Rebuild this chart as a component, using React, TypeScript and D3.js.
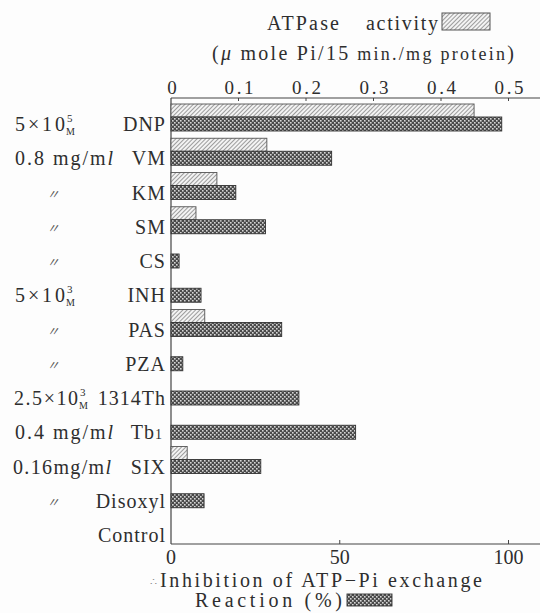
import React from "react";
import * as d3 from "d3";

// ---- data ----
const drugs = ["DNP", "VM", "KM", "SM", "CS", "INH", "PAS", "PZA", "1314Th", "Tb1", "SIX", "Disoxyl", "Control"];
const concLabels = ["5×10|M|5", "0.8 mg/ml", "〃", "〃", "〃", "5×10|M|3", "〃", "〃", "2.5×10|M|3", "0.4 mg/ml", "0.16mg/ml", "〃", ""];
const atpaseActivity: (number | null)[] = [0.449, 0.142, 0.068, 0.037, null, null, 0.05, null, null, null, 0.024, null, null];
const inhibitionPct: (number | null)[] = [98, 47.6, 19.2, 28, 2.4, 8.9, 32.8, 3.5, 37.9, 54.7, 26.6, 9.8, null];
const topTicks = [0, 0.1, 0.2, 0.3, 0.4, 0.5];
const bottomTicks = [0, 50, 100];

const SERIF = "Liberation Serif, Times New Roman, DejaVu Serif, serif";
const INK = "#2e2e2e";
const serif = { fontFamily: SERIF };

const X0 = 171;
const X1 = 508.5;
const TOP_Y = 98;
const BOT_Y = 544;
const RIGHT = 540;

const xAct = d3.scaleLinear().domain([0, 0.5]).range([X0, X1]);
const xPct = d3.scaleLinear().domain([0, 100]).range([X0, X1]);
const y = d3.scalePoint<string>().domain(drugs).range([124, 535]);

function fmtTop(v: number) {
  return v === 0 ? "0" : d3.format(".1f")(v);
}

function ConcLabel({ label, cy }: { label: string; cy: number }) {
  const base = cy + 7;
  if (!label) return null;
  if (label === "〃") {
    return (
      <text x={53} y={base - 1} textAnchor="middle" fontSize={13} fill="#555" fontStyle="italic"
        style={{ fontFamily: "Noto Sans CJK JP, sans-serif" }}>〃</text>
    );
  }
  if (label.includes("|")) {
    const [b, sub, sup] = label.split("|");
    const w = b.length === 4 ? 50 : 64;
    const x = b.length === 4 ? 15 : 14;
    return (
      <g style={serif} fill={INK}>
        <text x={x} y={base} fontSize={20} textLength={w} lengthAdjust="spacing">{b}</text>
        <text x={x + w + 1} y={base + 4} fontSize={10}>{sub}</text>
        <text x={x + w + 2} y={base - 9} fontSize={11}>{sup}</text>
      </g>
    );
  }
  const body = label.slice(0, -1);
  return (
    <text x={label.startsWith("0.16") ? 13 : 15} y={base} fontSize={20} style={serif} fill={INK}
      textLength={98} lengthAdjust="spacing">
      {body}
      <tspan fontStyle="italic">l</tspan>
    </text>
  );
}

function DrugLabel({ name, cy }: { name: string; cy: number }) {
  const base = cy + 7;
  if (name === "Tb1") {
    return (
      <text x={163} y={base} textAnchor="end" fontSize={20} style={serif} fill={INK} letterSpacing={1}>
        Tb<tspan fontSize={14}>1</tspan>
      </text>
    );
  }
  return (
    <text x={166} y={base} textAnchor="end" fontSize={20} style={serif} fill={INK} letterSpacing={1}>
      {name}
    </text>
  );
}

export default function App() {
  return (
    <svg width={540} height={613} viewBox="0 0 540 613"
      style={{ position: "absolute", left: 0, top: 0, background: "#fdfdfd" }}>
      <defs>
        <pattern id="hatch" width={3} height={3} patternUnits="userSpaceOnUse" patternTransform="rotate(45)">
          <rect width={3} height={3} fill="#f3f3f3" />
          <line x1={0.5} y1={0} x2={0.5} y2={3} stroke="#9c9c9c" strokeWidth={1} />
        </pattern>
        <pattern id="cross" width={4} height={4} patternUnits="userSpaceOnUse">
          <rect width={4} height={4} fill="#4a4a4a" />
          <rect x={0} y={0} width={1.6} height={1.6} fill="#d6d6d6" />
          <rect x={2} y={2} width={1.6} height={1.6} fill="#d6d6d6" />
        </pattern>
      </defs>

      {/* top title */}
      <g style={serif} fill={INK} fontSize={20}>
        <text x={267} y={30} textLength={72} lengthAdjust="spacing">ATPase</text>
        <text x={366} y={30} textLength={72} lengthAdjust="spacing">activity</text>
        <text x={212} y={60} textLength={302} lengthAdjust="spacing">
          (<tspan fontStyle="italic">μ</tspan> mole Pi/15<tspan fontSize={18}> min./mg protein</tspan>)
        </text>
      </g>
      <rect x={442} y={13} width={48} height={17} fill="url(#hatch)" stroke="#555" strokeWidth={1} />

      {/* top axis */}
      <line x1={X0} x2={RIGHT} y1={TOP_Y} y2={TOP_Y} stroke="#444" strokeWidth={1.2} />
      {topTicks.map((t) => (
        <g key={"tt" + t}>
          {t > 0 && <line x1={xAct(t)} x2={xAct(t)} y1={TOP_Y} y2={TOP_Y + 3} stroke="#444" />}
          {t === 0 ? (
            <text x={xAct(t) + 1} y={94} textAnchor="middle" fontSize={19} style={serif} fill={INK}>0</text>
          ) : (
            <text x={xAct(t) - 14} y={94} fontSize={19} style={serif} fill={INK}
              textLength={29} lengthAdjust="spacing">{fmtTop(t)}</text>
          )}
        </g>
      ))}

      {/* left axis */}
      <line x1={X0} x2={X0} y1={TOP_Y} y2={BOT_Y} stroke="#444" strokeWidth={1.2} />

      {/* bottom axis */}
      <line x1={X0} x2={RIGHT} y1={BOT_Y} y2={BOT_Y} stroke="#444" strokeWidth={1.2} />
      {bottomTicks.map((t) => (
        <g key={"bt" + t}>
          {t > 0 && <line x1={xPct(t)} x2={xPct(t)} y1={BOT_Y} y2={BOT_Y - 4} stroke="#444" />}
          <text x={xPct(t)} y={564} textAnchor="middle" fontSize={20} style={serif} fill={INK}>{t}</text>
        </g>
      ))}

      {/* bars */}
      {drugs.map((d, i) => {
        const cy = y(d) as number;
        const a = atpaseActivity[i];
        const p = inhibitionPct[i];
        return (
          <g key={d}>
            {a != null && (
              <rect x={X0} y={cy - 20} width={xAct(a) - X0} height={13} fill="url(#hatch)"
                stroke="#555" strokeWidth={0.9} />
            )}
            {p != null && (
              <rect x={X0} y={cy - 7} width={xPct(p) - X0} height={14} fill="url(#cross)"
                stroke="#333" strokeWidth={0.9} />
            )}
          </g>
        );
      })}

      {/* row labels */}
      {drugs.map((d, i) => {
        const cy = y(d) as number;
        return (
          <g key={"l" + d}>
            <ConcLabel label={concLabels[i]} cy={cy} />
            <DrugLabel name={d} cy={cy} />
          </g>
        );
      })}

      {/* bottom title */}
      <g style={serif} fill={INK} fontSize={20}>
        <text x={150} y={586} fontSize={11} fill="#888">∴</text>
        <text x={160} y={587} textLength={322} lengthAdjust="spacing">Inhibition of ATP−Pi exchange</text>
        <text x={195} y={607} textLength={147} lengthAdjust="spacing">Reaction (%)</text>
      </g>
      <rect x={347} y={594} width={45} height={12} fill="url(#cross)" stroke="#333" strokeWidth={0.9} />
    </svg>
  );
}
